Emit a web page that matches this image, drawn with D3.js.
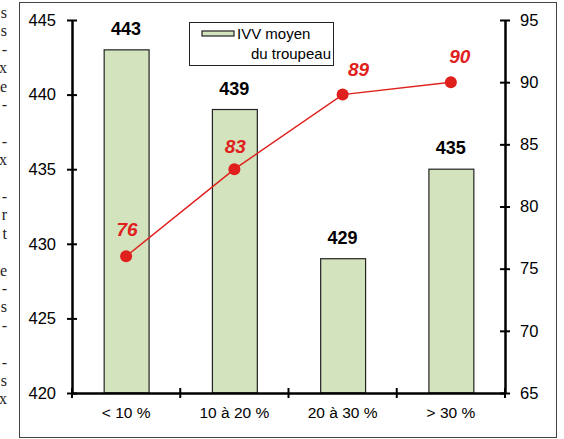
<!DOCTYPE html>
<html><head><meta charset="utf-8">
<script src="https://cdn.jsdelivr.net/npm/d3@7"></script>
<style>body{margin:0;background:#fff}svg{display:block}</style>
</head><body>
<svg id="c" width="564" height="439"></svg>
<script>
const categories = ["< 10 %", "10 à 20 %", "20 à 30 %", "> 30 %"];
const ivvValues = [443, 439, 429, 435];
const pctValues = [76, 83, 89, 90];
const leftTicks = [420, 425, 430, 435, 440, 445];
const rightTicks = [65, 70, 75, 80, 85, 90, 95];
const marginLetters = ["s","s","-","x","e","-","","-","x","","-","r","t","","e","-","s","-","","-","s","x"];
const legendLines = ["IVV moyen", "du troupeau"];

const svg = d3.select("#c");
const font = "Liberation Sans, Arial, sans-serif";

// margin text fragments (cut off from page)
svg.append("g").selectAll("text").data(marginLetters).join("text")
  .attr("x", 7).attr("y", (d,i)=>18 + i*18.4)
  .attr("text-anchor","end")
  .attr("font-family","Liberation Serif, Times New Roman, serif")
  .attr("font-size",16).attr("fill","#222").text(d=>d);

// frame
svg.append("rect").attr("x",19.5).attr("y",2.5).attr("width",537).attr("height",435)
  .attr("fill","none").attr("stroke","#444").attr("stroke-width",1);

const x0 = 72, x1 = 505, yTop = 20, yBot = 393;
const x = d3.scaleBand().domain(categories).range([x0,x1]).paddingInner(0.585).paddingOuter(0.2925);
const xb = d3.scaleBand().domain(categories).range([x0,x1]);
const yL = d3.scaleLinear().domain([420,445]).range([yBot,yTop]);
const yR = d3.scaleLinear().domain([65,95]).range([yBot,yTop]);

// bars
svg.append("g").selectAll("rect").data(ivvValues).join("rect")
  .attr("x",(d,i)=>x(categories[i])+0.5).attr("y",d=>yL(d))
  .attr("width",x.bandwidth()).attr("height",d=>yBot-yL(d))
  .attr("fill","#d3e3bd").attr("stroke","#222").attr("stroke-width",1.2);

svg.append("g").selectAll("text").data(ivvValues).join("text")
  .attr("x",(d,i)=>x(categories[i])+x.bandwidth()/2).attr("y",d=>yL(d)-15)
  .attr("text-anchor","middle").attr("font-family",font).attr("font-weight","bold")
  .attr("font-size",18).attr("fill","#000").text(d=>d);

// axes
function styleAxis(g){
  g.selectAll(".domain").attr("stroke","#000").attr("stroke-width",2.5);
  g.selectAll(".tick line").attr("stroke","#000").attr("stroke-width",2);
  g.selectAll(".tick text").attr("font-family",font).attr("font-size",16.5).attr("fill","#000");
}
const gl = svg.append("g").attr("transform",`translate(${x0},0)`)
  .call(d3.axisLeft(yL).tickValues(leftTicks).tickSize(5).tickSizeOuter(0).tickPadding(11));
styleAxis(gl);
gl.selectAll(".tick line").attr("x1",5);
const gr = svg.append("g").attr("transform",`translate(${x1},0)`)
  .call(d3.axisRight(yR).tickValues(rightTicks).tickSize(5).tickSizeOuter(0).tickPadding(10));
styleAxis(gr);
gr.selectAll(".tick line").attr("x1",-5);

const gb = svg.append("g").attr("transform",`translate(0,${yBot})`)
  .call(d3.axisBottom(xb).tickSize(0).tickSizeOuter(0).tickPadding(14));
styleAxis(gb);
gb.selectAll(".tick text").attr("font-size",15.5);
// boundary ticks
const bounds = categories.map(c=>xb(c)).concat([x1]);
gb.selectAll(".bt").data(bounds).join("line").attr("class","bt")
  .attr("x1",d=>d).attr("x2",d=>d).attr("y1",-5).attr("y2",5)
  .attr("stroke","#000").attr("stroke-width",2);

// line series
const cx = (d,i)=>x(categories[i])+x.bandwidth()/2;
const line = d3.line().x((d,i)=>cx(d,i)).y(d=>yR(d));
svg.append("path").datum(pctValues).attr("d",line)
  .attr("fill","none").attr("stroke","#e0201c").attr("stroke-width",1.5);
svg.append("g").selectAll("circle").data(pctValues).join("circle")
  .attr("cx",cx).attr("cy",d=>yR(d)).attr("r",6).attr("fill","#e0201c");
const lblDx = [1, 1, 16, 9];
const lblDy = [-20, -16, -19, -19];
svg.append("g").selectAll("text").data(pctValues).join("text")
  .attr("x",(d,i)=>cx(d,i)+lblDx[i]).attr("y",(d,i)=>yR(d)+lblDy[i])
  .attr("text-anchor","middle").attr("font-family",font).attr("font-weight","bold")
  .attr("font-style","italic").attr("font-size",19).attr("fill","#e0201c").text(d=>d);

// legend
const lg = svg.append("g");
lg.append("rect").attr("x",189.5).attr("y",22.5).attr("width",144).attr("height",43)
  .attr("fill","#fff").attr("stroke","#222").attr("stroke-width",1);
lg.append("rect").attr("x",202).attr("y",31).attr("width",32).attr("height",5)
  .attr("fill","#d3e3bd").attr("stroke","#222").attr("stroke-width",1.2);
lg.append("text").attr("x",237).attr("y",39).attr("font-family",font).attr("font-size",15).text(legendLines[0]);
lg.append("text").attr("x",331).attr("y",59).attr("text-anchor","end").attr("font-family",font).attr("font-size",15).text(legendLines[1]);
</script>
</body></html>
